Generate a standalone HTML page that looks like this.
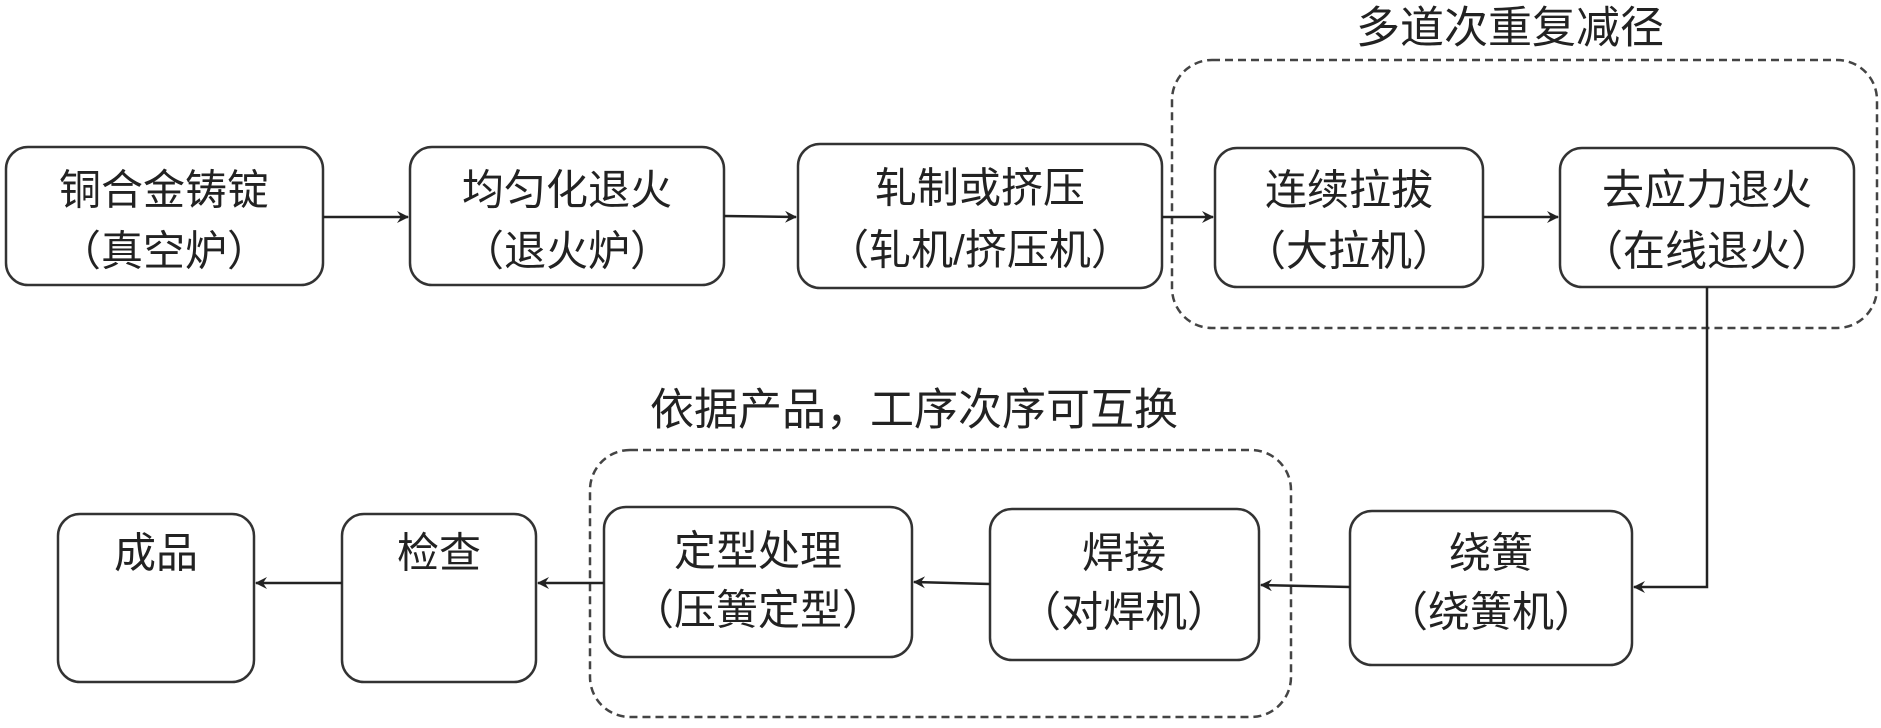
<!DOCTYPE html>
<html><head><meta charset="utf-8"><style>
body{margin:0;background:#fff;}
svg text{font-family:"Liberation Sans","Noto Sans CJK SC",sans-serif;font-size:42px;fill:#222;text-anchor:middle;dominant-baseline:central;}
</style></head><body>
<svg width="1881" height="723" xmlns="http://www.w3.org/2000/svg">
<defs><marker id="a" markerWidth="12" markerHeight="12" refX="11" refY="6" orient="auto" markerUnits="userSpaceOnUse"><path d="M0,0 L12,6 L0,12 L4,6 Z" fill="#222"/></marker></defs>
<g fill="none" stroke="#444" stroke-width="2.5" stroke-dasharray="8,5">
<rect x="1172" y="60" width="705" height="268" rx="40"/>
<rect x="590" y="450" width="701" height="267" rx="40"/>
</g>
<g fill="#fff" stroke="#333" stroke-width="2.5">
<rect x="6" y="147" width="317" height="138" rx="22"/>
<rect x="410" y="147" width="314" height="138" rx="22"/>
<rect x="798" y="144" width="364" height="144" rx="22"/>
<rect x="1215" y="148" width="268" height="139" rx="22"/>
<rect x="1560" y="148" width="294" height="139" rx="22"/>
<rect x="1350" y="511" width="282" height="154" rx="22"/>
<rect x="990" y="509" width="269" height="151" rx="22"/>
<rect x="604" y="507" width="308" height="150" rx="22"/>
<rect x="342" y="514" width="194" height="168" rx="22"/>
<rect x="58" y="514" width="196" height="168" rx="22"/>
</g>
<g stroke="#222" stroke-width="2.5" fill="none" marker-end="url(#a)">
<line x1="323" y1="217" x2="408" y2="217"/>
<line x1="724" y1="216" x2="796" y2="217"/>
<line x1="1162" y1="217" x2="1213" y2="217"/>
<line x1="1483" y1="217" x2="1558" y2="217"/>
<polyline points="1707,287 1707,587 1634,587"/>
<line x1="1350" y1="587" x2="1261" y2="585"/>
<line x1="990" y1="584" x2="914" y2="582"/>
<line x1="604" y1="583" x2="538" y2="583"/>
<line x1="342" y1="583" x2="256" y2="583"/>
</g>
<text x="1510" y="28" style="font-size:44px">多道次重复减径</text>
<text x="914" y="410" style="font-size:44px">依据产品，工序次序可互换</text>
<text x="164" y="190">铜合金铸锭</text><text x="164" y="251">（真空炉）</text>
<text x="567" y="190">均匀化退火</text><text x="567" y="251">（退火炉）</text>
<text x="980" y="188">轧制或挤压</text><text x="980" y="250">（轧机/挤压机）</text>
<text x="1349" y="190">连续拉拔</text><text x="1349" y="251">（大拉机）</text>
<text x="1707" y="190">去应力退火</text><text x="1707" y="251">（在线退火）</text>
<text x="1491" y="553">绕簧</text><text x="1491" y="612">（绕簧机）</text>
<text x="1124" y="553">焊接</text><text x="1124" y="612">（对焊机）</text>
<text x="758" y="551">定型处理</text><text x="758" y="610">（压簧定型）</text>
<text x="439" y="553">检查</text>
<text x="156" y="553">成品</text>
</svg>
</body></html>
